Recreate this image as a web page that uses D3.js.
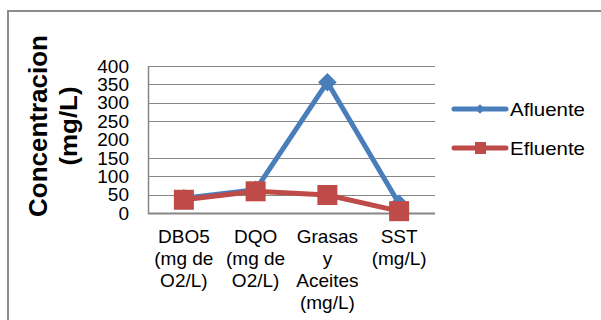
<!DOCTYPE html>
<html><head><meta charset="utf-8">
<script src="https://cdn.jsdelivr.net/npm/d3@7"></script>
<style>body{margin:0;background:#fff}svg{display:block;font-family:"Liberation Sans",Arial,sans-serif}</style>
</head><body><svg id="c" width="601" height="320"></svg>
<script>
const categories = [["DBO5","(mg de","O2/L)"],["DQO","(mg de","O2/L)"],["Grasas","y","Aceites","(mg/L)"],["SST","(mg/L)"]];
const seriesNames = ["Afluente","Efluente"];
const afluente = [40, 63, 356, 25];
const efluente = [36, 59, 49, 5];
const yTicks = [0,50,100,150,200,250,300,350,400];
const gridTicks = [50,100,150,250,300,350,400];

const svg = d3.select("#c");
const blue = "#4a7ebb", red = "#be4b48", grey = "#868686";

svg.append("rect").attr("x",8).attr("y",11).attr("width",700).attr("height",400)
  .attr("fill","#fff").attr("stroke","#8c8c8c").attr("stroke-width",2);

const x = d3.scaleBand().domain(d3.range(categories.length)).range([148,435]);
const y = d3.scaleLinear().domain([0,400]).range([213,66]);

svg.append("g").selectAll("line").data(gridTicks).join("line")
  .attr("x1",148).attr("x2",435).attr("y1",d=>Math.round(y(d))+0.5).attr("y2",d=>Math.round(y(d))+0.5)
  .attr("stroke",grey).attr("stroke-width",1);

svg.append("line").attr("x1",148.5).attr("x2",148.5).attr("y1",66).attr("y2",214).attr("stroke",grey).attr("stroke-width",1.5);
svg.append("line").attr("x1",148).attr("x2",435).attr("y1",213.5).attr("y2",213.5).attr("stroke",grey).attr("stroke-width",2);

svg.append("g").selectAll("text").data(yTicks).join("text")
  .attr("x",129).attr("y",d=>y(d)).attr("dy","0.35em").attr("text-anchor","end")
  .attr("font-size",19).attr("fill","#000").text(d=>d);

const yt = svg.append("g").attr("transform","translate(47,126) rotate(-90)");
yt.append("text").attr("text-anchor","middle").attr("font-size",25).attr("font-weight","bold")
  .attr("textLength",182).attr("lengthAdjust","spacingAndGlyphs").text("Concentracion");
yt.append("text").attr("y",30).attr("text-anchor","middle").attr("font-size",23).attr("font-weight","bold")
  .attr("textLength",79).attr("lengthAdjust","spacingAndGlyphs").text("(mg/L)");

const cx = i => x(i) + x.bandwidth()/2;
categories.forEach((lines,i)=>{
  const t = svg.append("text").attr("text-anchor","middle").attr("font-size",19).attr("fill","#000");
  lines.forEach((l,j)=>t.append("tspan").attr("x",cx(i)).attr("y",243+j*22).text(l));
});

const line = d3.line().x((d,i)=>cx(i)).y(d=>y(d));

svg.append("path").datum(afluente).attr("d",line).attr("fill","none").attr("stroke",blue)
  .attr("stroke-width",5).attr("stroke-linejoin","round");
svg.append("g").selectAll("path").data(afluente).join("path")
  .attr("transform",(d,i)=>`translate(${cx(i)},${y(d)})`)
  .attr("d",d3.symbol(d3.symbolDiamond2,220)()).attr("fill",blue);

svg.append("path").datum(efluente).attr("d",line).attr("fill","none").attr("stroke",red)
  .attr("stroke-width",5).attr("stroke-linejoin","round");
svg.append("g").selectAll("rect").data(efluente).join("rect")
  .attr("x",(d,i)=>cx(i)-10).attr("y",d=>y(d)-10).attr("width",20).attr("height",20).attr("fill",red);

const leg = [{n:seriesNames[0],c:blue,yy:109,m:"d"},{n:seriesNames[1],c:red,yy:148,m:"s"}];
leg.forEach(l=>{
  svg.append("line").attr("x1",454).attr("x2",506).attr("y1",l.yy).attr("y2",l.yy)
    .attr("stroke",l.c).attr("stroke-width",5).attr("stroke-linecap","round");
  if(l.m==="d") svg.append("path").attr("transform",`translate(480,${l.yy})`).attr("d",d3.symbol(d3.symbolDiamond2,60)()).attr("fill",l.c);
  else svg.append("rect").attr("x",475).attr("y",l.yy-6).attr("width",11).attr("height",12).attr("fill",l.c);
  svg.append("text").attr("x",510).attr("y",l.yy).attr("dy","0.35em").attr("font-size",19)
    .attr("textLength",75).attr("lengthAdjust","spacingAndGlyphs").text(l.n);
});
</script></body></html>
